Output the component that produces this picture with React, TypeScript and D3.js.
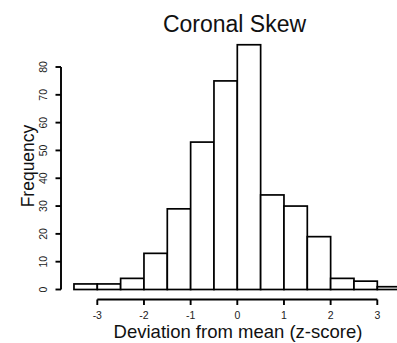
import { useRef, useEffect } from 'react';
import * as d3 from 'd3';

// histogram bins (left edges) and counts
const binStarts = [-3.5, -3, -2.5, -2, -1.5, -1, -0.5, 0, 0.5, 1, 1.5, 2, 2.5, 3];
const counts = [2, 2, 4, 13, 29, 53, 75, 88, 34, 30, 19, 4, 3, 1];
const binWidth = 0.5;
const xTicks = [-3, -2, -1, 0, 1, 2, 3];
const yTicks = [0, 10, 20, 30, 40, 50, 60, 70, 80];

const title = 'Coronal Skew';
const xLabel = 'Deviation from mean (z-score)';
const yLabel = 'Frequency';

export default function App() {
  const svgRef = useRef<SVGSVGElement>(null);
  const width = 397;
  const height = 343;

  useEffect(() => {
    if (!svgRef.current) return;
    const svg = d3.select(svgRef.current);
    svg.selectAll('*').remove();

    const font = 'Liberation Sans, Arial, sans-serif';
    const x = d3.scaleLinear().domain([-3, 3]).range([97.3, 377.3]);
    const y = d3.scaleLinear().domain([0, 80]).range([289.5, 67]);

    svg.append('rect').attr('width', width).attr('height', height).attr('fill', '#fff');

    // bars
    svg.append('g')
      .selectAll('rect')
      .data(binStarts.map((s, i) => ({ s, n: counts[i] })))
      .join('rect')
      .attr('x', (d) => x(d.s))
      .attr('width', (d) => x(d.s + binWidth) - x(d.s))
      .attr('y', (d) => y(d.n))
      .attr('height', (d) => y(0) - y(d.n))
      .attr('fill', '#fff')
      .attr('stroke', '#000')
      .attr('stroke-width', 1.7);

    // x axis
    const xa = svg.append('g').attr('transform', `translate(0,${299.5})`);
    xa.append('line')
      .attr('x1', x(xTicks[0])).attr('x2', x(xTicks[xTicks.length - 1]))
      .attr('stroke', '#000').attr('stroke-width', 1.9);
    xa.selectAll('line.tick')
      .data(xTicks)
      .join('line')
      .attr('class', 'tick')
      .attr('x1', (d) => x(d)).attr('x2', (d) => x(d))
      .attr('y1', 0).attr('y2', 5.5)
      .attr('stroke', '#000').attr('stroke-width', 1.9);
    xa.selectAll('text')
      .data(xTicks)
      .join('text')
      .attr('x', (d) => x(d))
      .attr('y', 19)
      .attr('text-anchor', 'middle')
      .attr('font-family', font)
      .attr('font-size', 10.5)
      .attr('fill', '#222')
      .text((d) => String(d));

    // y axis
    const ya = svg.append('g').attr('transform', `translate(${61},0)`);
    ya.append('line')
      .attr('y1', y(0)).attr('y2', y(80))
      .attr('stroke', '#000').attr('stroke-width', 1.9);
    ya.selectAll('line.tick')
      .data(yTicks)
      .join('line')
      .attr('class', 'tick')
      .attr('y1', (d) => y(d)).attr('y2', (d) => y(d))
      .attr('x1', 0).attr('x2', -5.5)
      .attr('stroke', '#000').attr('stroke-width', 1.9);
    ya.selectAll('text')
      .data(yTicks)
      .join('text')
      .attr('transform', (d) => `translate(${-14.5},${y(d)}) rotate(-90)`)
      .attr('text-anchor', 'middle')
      .attr('font-family', font)
      .attr('font-size', 10.5)
      .attr('fill', '#222')
      .text((d) => String(d));

    // titles
    svg.append('text')
      .attr('x', 234.5).attr('y', 31.5)
      .attr('text-anchor', 'middle')
      .attr('font-family', font)
      .attr('font-size', 23)
      .attr('fill', '#111')
      .text(title);

    svg.append('text')
      .attr('x', 238).attr('y', 337.5)
      .attr('text-anchor', 'middle')
      .attr('font-family', font)
      .attr('font-size', 18.5)
      .attr('fill', '#111')
      .text(xLabel);

    svg.append('text')
      .attr('transform', `translate(${34},${166}) rotate(-90)`)
      .attr('text-anchor', 'middle')
      .attr('font-family', font)
      .attr('font-size', 17.5)
      .attr('fill', '#111')
      .text(yLabel);
  }, []);

  return (
    <div style={{ position: 'absolute', left: 0, top: 0 }}>
      <svg ref={svgRef} width={width} height={height} style={{ display: 'block', overflow: 'hidden' }} />
    </div>
  );
}
